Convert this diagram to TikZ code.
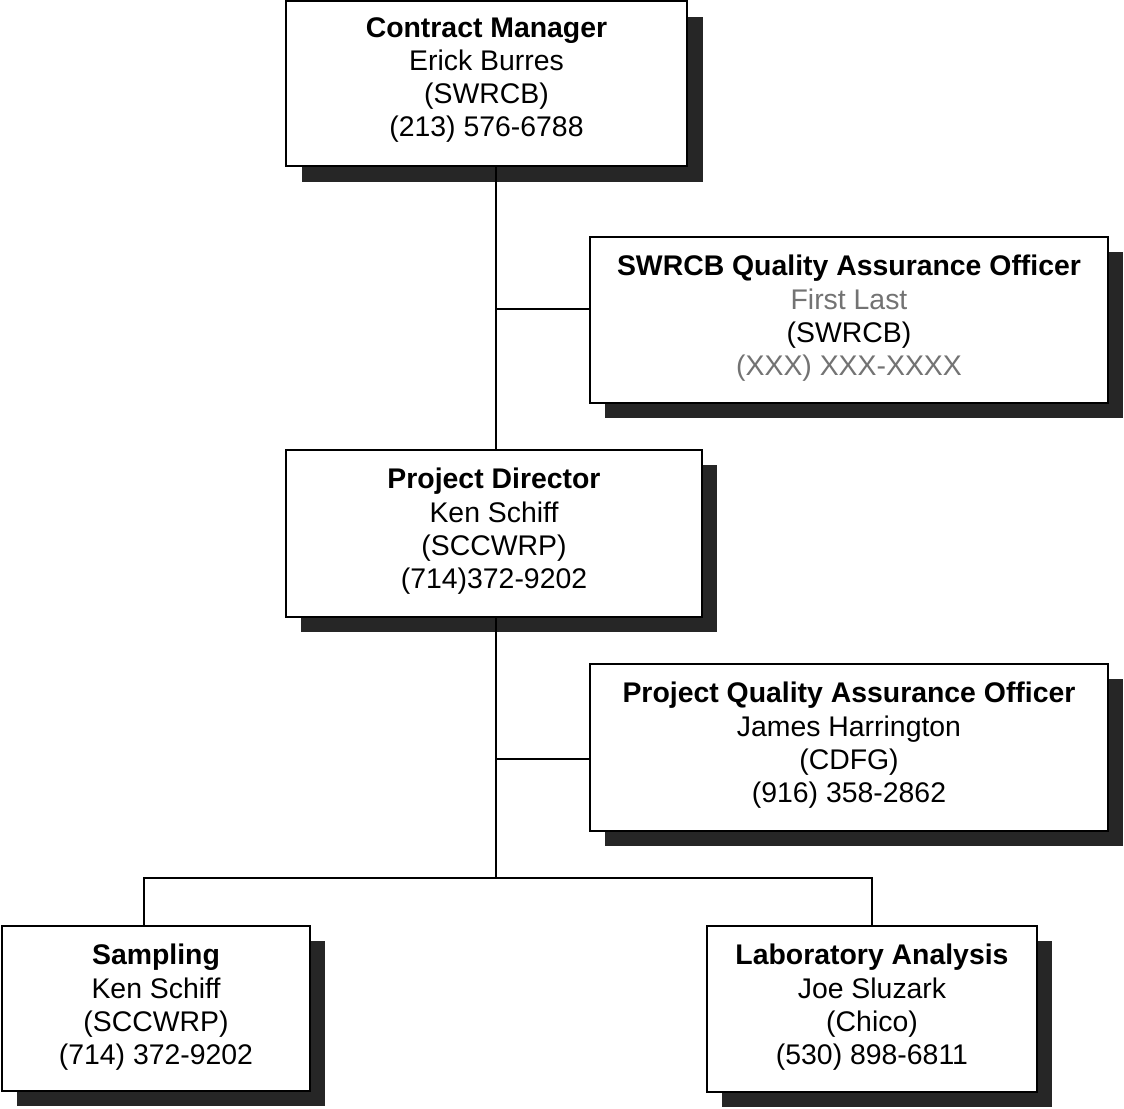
\documentclass[tikz,border=0pt]{standalone}
\usepackage{fontspec}
\setmainfont{Liberation Sans}
\begin{document}
\begin{tikzpicture}[x=1pt,y=-1pt,
  orgbox/.style={draw=black, line width=1.6pt, fill=white, inner sep=0pt},
  shadowfill/.style={fill=black!85, draw=none},
  boxtext/.style={anchor=north, align=center, inner sep=0pt,
    font=\fontsize{28.4}{33.3}\selectfont},
  link/.style={draw=black, line width=1.5pt},
  faint/.style={text=black!55}]
\useasboundingbox (0,0) rectangle (1124,1108);

% drop shadows
\fill[shadowfill] (302,17) rectangle (703,182);
\fill[shadowfill] (605,252) rectangle (1123,418);
\fill[shadowfill] (301,465) rectangle (717,632);
\fill[shadowfill] (605,679) rectangle (1123,846);
\fill[shadowfill] (17,941) rectangle (325,1106);
\fill[shadowfill] (722,941) rectangle (1052,1107);

% boxes
\node[orgbox, minimum width=401pt, minimum height=165pt] (cm) at (486.5,83.5) {};
\node[orgbox, minimum width=518pt, minimum height=166pt] (qa1) at (849,320) {};
\node[orgbox, minimum width=416pt, minimum height=167pt] (pd) at (494,533.5) {};
\node[orgbox, minimum width=518pt, minimum height=167pt] (qa2) at (849,747.5) {};
\node[orgbox, minimum width=308pt, minimum height=165pt] (samp) at (156,1008.5) {};
\node[orgbox, minimum width=330pt, minimum height=166pt] (lab) at (872,1009) {};

% box texts
\node[boxtext] (cmtext) at (486.5,17) {\textbf{Contract Manager}\\Erick Burres\\(SWRCB)\\(213) 576-6788};
\node[boxtext] (qa1text) at (849,255) {\textbf{SWRCB Quality Assurance Officer}\\{\color{black!55}First Last}\\(SWRCB)\\{\color{black!55}(XXX) XXX-XXXX}};
\node[boxtext] (pdtext) at (494,468) {\textbf{Project Director}\\Ken Schiff\\(SCCWRP)\\(714)372-9202};
\node[boxtext] (qa2text) at (849,682) {\textbf{Project Quality Assurance Officer}\\James Harrington\\(CDFG)\\(916) 358-2862};
\node[boxtext] (samptext) at (156,944) {\textbf{Sampling}\\Ken Schiff\\(SCCWRP)\\(714) 372-9202};
\node[boxtext] (labtext) at (872,944) {\textbf{Laboratory Analysis}\\Joe Sluzark\\(Chico)\\(530) 898-6811};

% connector junctions
\coordinate (j1) at (496,309);
\coordinate (j2) at (496,759);
\coordinate (split) at (496,878);
\coordinate (lx) at (144,878);
\coordinate (rx) at (872,878);

% connectors
\draw[link] (j1 |- cm.south) -- (j1 |- pd.north);
\draw[link] (j1) -- (j1 -| qa1.west);
\draw[link] (j2 |- pd.south) -- (split);
\draw[link] (j2) -- (j2 -| qa2.west);
\draw[link] (lx |- samp.north) -- (lx) -- (rx) -- (rx |- lab.north);
\end{tikzpicture}
\end{document}
